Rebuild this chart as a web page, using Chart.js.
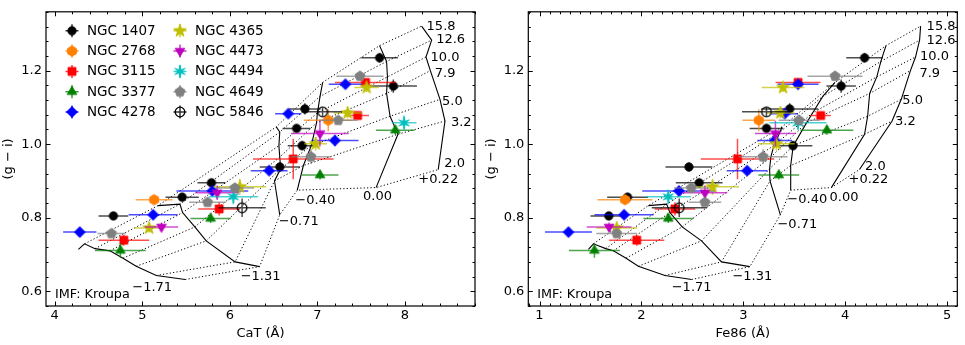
<!DOCTYPE html>
<html><head><meta charset="utf-8">
<script src="https://cdn.jsdelivr.net/npm/chart.js@4.4.1/dist/chart.umd.min.js"></script>
<style>
html,body{margin:0;padding:0;background:#fff;}
canvas{position:absolute;top:0;}
</style></head>
<body>
<canvas id="c1" width="480" height="345" style="left:0px;width:480px;height:345px"></canvas>
<canvas id="c2" width="485" height="345" style="left:480px;width:485px;height:345px"></canvas>
<script>
// ---------------- DATA ----------------
const galaxyNames = ['NGC 1407','NGC 2768','NGC 3115','NGC 3377','NGC 4278','NGC 4365','NGC 4473','NGC 4494','NGC 4649','NGC 5846'];

// (g - i) colour of each point, per galaxy
const giVals = [
 [0.805,0.856,0.895,0.938,0.996,1.043,1.096,1.158,1.235],
 [0.849,1.065],
 [0.739,0.824,0.960,1.078,1.168],
 [0.711,0.798,0.916,1.038],
 [0.761,0.808,0.873,0.928,1.010,1.083,1.163],
 [0.772,0.884,1.001,1.085,1.154],
 [0.775,0.868,1.029],
 [0.857,1.058],
 [0.757,0.842,0.881,0.966,1.065,1.185],
 [0.827,1.088]
];
const giErrs = [
 [0.01,0.01,0.01,0.012,0.012,0.01,0.015,0.018,0.013],
 [0.012,0.03],
 [0.015,0.018,0.055,0.01,0.01],
 [0.02,0.012,0.012,0.012],
 [0.01,0.01,0.01,0.01,0.015,0.01,0.01],
 [0.012,0.022,0.018,0.015,0.012],
 [0.012,0.02,0.035],
 [0.02,0.02],
 [0.01,0.01,0.01,0.02,0.01,0.012],
 [0.025,0.012]
];
// CaT index (Å)
const catVals = [
 [4.67,5.455,5.79,6.571,6.826,6.762,6.857,7.867,7.71],
 [5.135,7.124],
 [4.789,5.878,6.724,7.459,7.55],
 [4.75,5.78,7.03,7.89],
 [4.286,5.124,5.80,6.449,7.2,6.667,7.32],
 [5.078,6.114,6.98,7.345,7.562],
 [5.219,5.855,7.029],
 [6.04,7.99],
 [4.648,5.745,6.057,6.926,7.238,7.486],
 [6.14,7.059]
];
const catErrs = [
 [0.17,0.19,0.16,0.23,0.165,0.16,0.18,0.27,0.21],
 [0.21,0.28],
 [0.29,0.24,0.46,0.13,0.35],
 [0.29,0.23,0.21,0.22],
 [0.19,0.28,0.41,0.21,0.27,0.15,0.19],
 [0.17,0.3,0.13,0.16,0.14],
 [0.19,0.25,0.33],
 [0.28,0.14],
 [0.16,0.21,0.22,0.23,0.22,0.27],
 [0.27,0.22]
];
// Fe86 index (Å)
const feVals = [
 [1.68,1.864,2.567,2.466,3.488,3.227,3.455,3.96,4.19],
 [1.839,3.152],
 [1.954,2.329,2.943,3.759,3.537],
 [1.539,2.264,3.348,3.82],
 [1.284,1.83,2.368,3.037,3.308,3.406,3.537],
 [1.758,2.698,3.325,3.364,3.39],
 [1.683,2.623,3.315],
 [2.264,3.537],
 [1.758,2.623,2.49,3.194,3.547,3.90],
 [2.371,3.227]
];
const feErrs = [
 [0.18,0.2,0.23,0.23,0.19,0.165,0.28,0.145,0.18],
 [0.27,0.16],
 [0.27,0.2,0.36,0.1,0.22],
 [0.25,0.245,0.2,0.26],
 [0.23,0.29,0.36,0.2,0.17,0.13,0.2],
 [0.2,0.26,0.18,0.14,0.21],
 [0.22,0.22,0.2],
 [0.22,0.28],
 [0.2,0.16,0.17,0.24,0.2,0.27],
 [0.27,0.24]
];

// SSP model grid (IMF: Kroupa); rows = [Z/H], columns = ages
const modelAges = ['15.8','12.6','10.0','7.9','5.0','3.2','2.0'];
const modelMetals = ['\u22121.71','\u22121.31','\u22120.71','\u22120.40','0.00','+0.22'];
const modelGI = [
 [0.729,0.716,0.710,0.690,0.668,0.643,0.632],
 [0.833,0.837,0.814,0.775,0.737,0.680,0.667],
 [1.047,1.033,0.996,0.965,0.933,0.900,0.808],
 [1.168,1.130,1.085,1.058,0.996,0.942,0.875],
 [1.268,1.225,1.183,1.138,1.076,1.027,0.882],
 [1.321,1.283,1.237,1.200,1.122,1.063,0.931]
];
const modelCaT = [
 [4.34,4.46,4.63,4.78,4.93,5.16,5.49],
 [5.18,5.43,5.46,5.60,5.73,6.06,6.34],
 [6.53,6.57,6.56,6.57,6.58,6.51,6.57],
 [7.06,7.03,7.00,6.99,6.93,6.84,6.77],
 [7.71,7.79,7.80,7.79,7.83,7.92,7.67],
 [8.19,8.305,8.24,8.29,8.40,8.457,8.38]
];
const modelFe86 = [
 [1.529,1.65,1.725,1.85,1.97,2.231,2.493],
 [2.068,2.248,2.28,2.40,2.59,2.786,3.064],
 [3.38,3.36,3.30,3.27,3.258,3.262,3.364],
 [3.90,3.78,3.68,3.62,3.49,3.465,3.465],
 [4.40,4.35,4.31,4.24,4.22,4.19,3.864],
 [4.74,4.73,4.69,4.64,4.55,4.46,4.14]
];
// extra oldest point at the start of the [Z/H] = -1.71 track
const hookGI = 0.714, hookCaT = 4.27, hookFe86 = 1.48;

const catTicks = [4,5,6,7,8];
const fe86Ticks = [1,2,3,4,5];
const giTicks = [0.6,0.8,1.0,1.2];

// ---------------- STYLE ----------------
Chart.defaults.font.family = "'DejaVu Sans', sans-serif";
Chart.defaults.color = '#000';
const FONT = "'DejaVu Sans', sans-serif";

const colors = ['#000000','#ff8000','#ff0000','#008000','#0000ff','#bfbf00','#bf00bf','#00bfbf','#808080','#000000'];
const shapes = ['circle','hexagon','square','triUp','diamond','star5','triDown','star6','pentagon','open'];

function rgba(hex, a){
  const r=parseInt(hex.substr(1,2),16), g=parseInt(hex.substr(3,2),16), b=parseInt(hex.substr(5,2),16);
  return `rgba(${r},${g},${b},${a})`;
}
function polyPath(g, n, r, rot){
  g.beginPath();
  for(let i=0;i<n;i++){const a=rot+i*2*Math.PI/n; const px=r*Math.cos(a), py=r*Math.sin(a); i?g.lineTo(px,py):g.moveTo(px,py);}
  g.closePath();
}
function starPath(g, n, ro, ri, rot){
  g.beginPath();
  for(let i=0;i<2*n;i++){const a=rot+i*Math.PI/n; const r=i%2?ri:ro; const px=r*Math.cos(a), py=r*Math.sin(a); i?g.lineTo(px,py):g.moveTo(px,py);}
  g.closePath();
}
function makeMarker(shape, color){
  const S=20, c=document.createElement('canvas'); c.width=S; c.height=S;
  const g=c.getContext('2d'); g.translate(S/2,S/2);
  g.fillStyle=color; g.strokeStyle=color; g.lineWidth=0.8; g.lineJoin='miter';
  const up=-Math.PI/2;
  switch(shape){
    case 'circle': g.beginPath(); g.arc(0,0,4.2,0,2*Math.PI); break;
    case 'hexagon': polyPath(g,6,5.2,up); break;
    case 'square': g.beginPath(); g.rect(-4,-4,8,8); break;
    case 'triUp': polyPath(g,3,5.6,up); break;
    case 'diamond': polyPath(g,4,5.5,up); break;
    case 'star5': starPath(g,5,6.8,2.7,up); break;
    case 'triDown': polyPath(g,3,5.6,Math.PI/2); break;
    case 'star6': starPath(g,6,6.2,2.0,up); break;
    case 'pentagon': polyPath(g,5,5.3,up); break;
    case 'open': g.beginPath(); g.arc(0,0,4.8,0,2*Math.PI); g.lineWidth=1.3; g.stroke(); return c;
  }
  g.fill(); g.stroke();
  return c;
}
const markers = shapes.map((s,i)=>makeMarker(s,colors[i]));

function buildChart(canvasId, cfg){
  const datasets = [];
  // solid [Z/H] tracks
  modelGI.forEach((row,m)=>{
    const pts = row.map((g,a)=>({x:cfg.modelX[m][a], y:g}));
    if(m===0) pts.unshift({x:cfg.hookX, y:hookGI});
    datasets.push({data:pts, showLine:true, borderColor:'#000', borderWidth:1.1, pointRadius:0, order:200});
  });
  // dotted age tracks
  modelAges.forEach((age,a)=>{
    const pts = modelGI.map((row,m)=>({x:cfg.modelX[m][a], y:row[a]}));
    datasets.push({data:pts, showLine:true, borderColor:'#000', borderWidth:1, borderDash:[1.2,2.2], pointRadius:0, order:200});
  });
  // galaxies
  galaxyNames.forEach((name,i)=>{
    const pts = giVals[i].map((g,k)=>({x:cfg.xVals[i][k], y:g, xe:cfg.xErrs[i][k], ye:giErrs[i][k]}));
    datasets.push({label:name, data:pts, pointStyle:markers[i], pointRadius:6, pointHoverRadius:6,
      errColor:rgba(colors[i],0.7), isGalaxy:true, order:100-i});
  });

  const plugin = {
    id:'custom_'+canvasId,
    beforeDatasetDraw(chart, args){
      const ds = chart.data.datasets[args.index];
      if(!ds.isGalaxy) return;
      const {ctx, scales:{x,y}, chartArea:a} = chart;
      ctx.save();
      ctx.beginPath(); ctx.rect(a.left,a.top,a.right-a.left,a.bottom-a.top); ctx.clip();
      ctx.strokeStyle = ds.errColor; ctx.lineWidth = 1.5;
      ds.data.forEach(p=>{
        const px=x.getPixelForValue(p.x), py=y.getPixelForValue(p.y);
        ctx.beginPath();
        ctx.moveTo(x.getPixelForValue(p.x-p.xe), py); ctx.lineTo(x.getPixelForValue(p.x+p.xe), py);
        ctx.moveTo(px, y.getPixelForValue(p.y-p.ye)); ctx.lineTo(px, y.getPixelForValue(p.y+p.ye));
        ctx.stroke();
      });
      ctx.restore();
    },
    afterDatasetsDraw(chart){
      const {ctx, scales:{x,y}} = chart;
      ctx.save();
      ctx.fillStyle='#000'; ctx.font = '13px '+FONT; ctx.textBaseline='middle';
      // age labels at the high-metallicity end
      const last = modelGI.length-1;
      modelAges.forEach((age,a)=>{
        const px = x.getPixelForValue(cfg.modelX[last][a]), py = y.getPixelForValue(modelGI[last][a]);
        const o = cfg.ageOff[a];
        ctx.textAlign='left'; ctx.fillText(age, px+o[0], py+o[1]);
      });
      // metallicity labels at the youngest end
      const la = modelAges.length-1;
      modelMetals.forEach((mt,m)=>{
        const px = x.getPixelForValue(cfg.modelX[m][la]), py = y.getPixelForValue(modelGI[m][la]);
        const o = cfg.metOff[m];
        ctx.textAlign='center'; ctx.fillText(mt, px+o[0], py+o[1]);
      });
      ctx.restore();
    },
    afterDraw(chart){
      const {ctx, chartArea:a, scales:{x,y}} = chart;
      ctx.save();
      ctx.strokeStyle='#000'; ctx.lineWidth=1;
      const T=4.5, t=2.5;
      const drawX=(v,len)=>{const p=Math.round(x.getPixelForValue(v))+0.5; ctx.beginPath(); ctx.moveTo(p,a.bottom); ctx.lineTo(p,a.bottom-len); ctx.moveTo(p,a.top); ctx.lineTo(p,a.top+len); ctx.stroke();};
      const drawY=(v,len)=>{const p=Math.round(y.getPixelForValue(v))+0.5; ctx.beginPath(); ctx.moveTo(a.left,p); ctx.lineTo(a.left+len,p); ctx.moveTo(a.right,p); ctx.lineTo(a.right-len,p); ctx.stroke();};
      for(let k=Math.ceil(x.min/cfg.xMinor-1e-6); k*cfg.xMinor<=x.max+1e-9; k++){
        const v=k*cfg.xMinor; const major=cfg.xTicks.some(tv=>Math.abs(tv-v)<1e-6);
        drawX(v, major?T:t);
      }
      for(let k=Math.ceil(y.min/0.04-1e-6); k*0.04<=y.max+1e-9; k++){
        const v=k*0.04; const major=giTicks.some(tv=>Math.abs(tv-v)<1e-6);
        drawY(v, major?T:t);
      }
      ctx.lineWidth=1.2;
      ctx.strokeRect(a.left, a.top, a.right-a.left, a.bottom-a.top);
      // IMF text
      ctx.fillStyle='#000'; ctx.font='12.8px '+FONT; ctx.textAlign='left'; ctx.textBaseline='middle';
      ctx.fillText('IMF: Kroupa', a.left+9, a.bottom-11);
      // legend
      if(cfg.legend){
        ctx.font='13.5px '+FONT;
        galaxyNames.forEach((name,i)=>{
          const col=Math.floor(i/5), row=i%5;
          const mx = a.left + 26 + col*108, my = a.top + 19 + row*20.3;
          ctx.strokeStyle=rgba(colors[i],0.8); ctx.lineWidth=1.5;
          ctx.beginPath(); ctx.moveTo(mx-6.5,my); ctx.lineTo(mx+6.5,my); ctx.moveTo(mx,my-6.5); ctx.lineTo(mx,my+6.5); ctx.stroke();
          const mk=markers[i]; ctx.drawImage(mk, mx-mk.width/2, my-mk.height/2);
          ctx.fillStyle='#000'; ctx.fillText(name, mx+15, my+0.5);
        });
      }
      ctx.restore();
    }
  };

  return new Chart(document.getElementById(canvasId), {
    type:'scatter',
    data:{datasets},
    options:{
      responsive:false, animation:false, events:[],
      devicePixelRatio:1,
      layout:{padding:{left:0,right:cfg.padRight,top:7,bottom:0}, autoPadding:false},
      plugins:{legend:{display:false}, tooltip:{enabled:false}},
      scales:{
        x:{type:'linear', position:'bottom', min:cfg.xMin, max:cfg.xMax,
          grid:{display:false, drawTicks:false}, border:{display:false},
          ticks:{padding:2, font:{size:13}, color:'#000', maxRotation:0, autoSkip:false, callback:v=>String(v)},
          afterBuildTicks:s=>{s.ticks=cfg.xTicks.map(v=>({value:v}));},
          afterFit:s=>{s.height=39;},
          title:{display:true, text:cfg.xTitle, font:{size:13}, color:'#000', padding:{top:0,bottom:4}}
        },
        y:{type:'linear', position:'left', min:0.56, max:1.36,
          grid:{display:false, drawTicks:false}, border:{display:false},
          ticks:{padding:4, font:{size:13}, color:'#000', autoSkip:false, callback:v=>Number(v).toFixed(1)},
          afterBuildTicks:s=>{s.ticks=giTicks.map(v=>({value:v}));},
          afterFit:s=>{s.width=cfg.yWidth;},
          title:{display:true, text:'(g \u2212 i)', font:{size:13}, color:'#000', padding:{top:cfg.yTitlePad,bottom:0}}
        }
      }
    },
    plugins:[plugin]
  });
}

buildChart('c1', {
  xVals:catVals, xErrs:catErrs, modelX:modelCaT, hookX:hookCaT,
  xMin:3.9, xMax:8.8, xTicks:catTicks, xMinor:0.2, xTitle:'CaT (\u00c5)',
  yWidth:46, padRight:5, yTitlePad:0.8, legend:true,
  ageOff:[[5,0],[4.5,0],[4.5,1],[4.5,3],[2,2],[6,2],[6,-6]],
  metOff:[[-33,8],[1,10],[19,6.5],[18,10],[1.5,9],[0,10]]
});
buildChart('c2', {
  xVals:feVals, xErrs:feErrs, modelX:modelFe86, hookX:hookFe86,
  xMin:0.89, xMax:5.1, xTicks:fe86Ticks, xMinor:0.1, xTitle:'Fe86 (\u00c5)',
  yWidth:48.3, padRight:7.7, yTitlePad:3.7, legend:false,
  ageOff:[[6,0],[7,1],[4.5,0],[9,2.5],[1,1.6],[3,0.6],[5.5,-3]],
  metOff:[[0,8.6],[2.5,10],[17,9.4],[16.6,9],[12.6,10],[9,10]]
});
</script>
</body></html>
